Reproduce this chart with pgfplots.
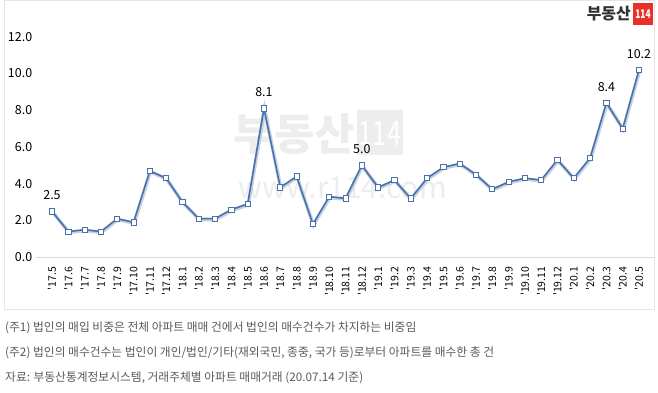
\documentclass[border=0pt]{standalone}
\usepackage{pgfplots}
\pgfplotsset{compat=1.18}
\usepackage{fontspec}
\setmainfont{Noto Sans CJK KR}
\definecolor{lineblue}{HTML}{4A72AA}
\definecolor{glow}{HTML}{C5D0E0}
\definecolor{logored}{HTML}{E8312A}
\definecolor{wm}{HTML}{EDEDED}
\begin{document}
\begin{tikzpicture}[x=1bp,y=1bp]
\path[use as bounding box] (0,0) rectangle (658,392);
\draw[black!10] (4,83) rectangle (654,391.5);
% watermark
\node[anchor=east, text=wm, font=\fontsize{44}{44}\selectfont\bfseries, inner sep=0] at (355,258) {부동산};
\fill[wm] (357,237) rectangle (403,282);
\node[text=white, font=\fontsize{34}{34}\selectfont, inner sep=0, xscale=0.75] at (380,259) {114};
\node[anchor=west, text=wm, font=\fontsize{30}{30}\selectfont, inner sep=0] at (238,204) {www.r114.com};
% logo
\node[anchor=east, text=black!80, font=\fontsize{16}{16}\selectfont\bfseries, inner sep=0] at (631,378) {부동산};
\fill[logored] (633,367) rectangle (653,389);
\node[text=white, font=\fontsize{12}{12}\selectfont\bfseries, inner sep=0, xscale=0.7] at (643,378) {114};
\begin{axis}[
  at={(35.7bp,134.7bp)}, anchor=south west,
  scale only axis, width=619.6bp, height=220.6bp,
  xmin=-1, xmax=37, ymin=0, ymax=12,
  axis line style={draw=none}, tick style={draw=none},
  ytick={0,2,...,12},
  /pgf/number format/assume math mode=true,
  yticklabel style={font=\fontsize{12.5}{14}\selectfont, /pgf/number format/fixed, /pgf/number format/fixed zerofill, /pgf/number format/precision=1},
  xtick={0,...,36},
  xticklabels={\textquotesingle17.5,\textquotesingle17.6,\textquotesingle17.7,\textquotesingle17.8,\textquotesingle17.9,\textquotesingle17.10,\textquotesingle17.11,\textquotesingle17.12,\textquotesingle18.1,\textquotesingle18.2,\textquotesingle18.3,\textquotesingle18.4,\textquotesingle18.5,\textquotesingle18.6,\textquotesingle18.7,\textquotesingle18.8,\textquotesingle18.9,\textquotesingle18.10,\textquotesingle18.11,\textquotesingle18.12,\textquotesingle19.1,\textquotesingle19.2,\textquotesingle19.3,\textquotesingle19.4,\textquotesingle19.5,\textquotesingle19.6,\textquotesingle19.7,\textquotesingle19.8,\textquotesingle19.9,\textquotesingle19.10,\textquotesingle19.11,\textquotesingle19.12,\textquotesingle20.1,\textquotesingle20.2,\textquotesingle20.3,\textquotesingle20.4,\textquotesingle20.5},
  xticklabel style={rotate=90, anchor=east, font=\fontsize{10.5}{12}\selectfont},
  xticklabel shift=6bp,
  clip=false,
]
\draw[black!15, line width=0.8pt] (axis cs:-1,0) -- (axis cs:37,0);
\addplot[glow, line width=3.6pt, shift={(0.6bp,-0.8bp)}, forget plot] coordinates {
(0,2.5)(1,1.4)(2,1.5)(3,1.4)(4,2.1)(5,1.9)(6,4.7)(7,4.3)(8,3.0)(9,2.1)(10,2.1)(11,2.6)(12,2.9)(13,8.1)(14,3.8)(15,4.4)(16,1.8)(17,3.3)(18,3.2)(19,5.0)(20,3.8)(21,4.2)(22,3.2)(23,4.3)(24,4.9)(25,5.1)(26,4.5)(27,3.7)(28,4.1)(29,4.3)(30,4.2)(31,5.3)(32,4.3)(33,5.4)(34,8.4)(35,7.0)(36,10.2)};
\addplot[lineblue, line width=1.6pt, mark=square*, mark size=2.6bp, mark options={fill=white, draw=lineblue, line width=0.8pt}] coordinates {
(0,2.5)(1,1.4)(2,1.5)(3,1.4)(4,2.1)(5,1.9)(6,4.7)(7,4.3)(8,3.0)(9,2.1)(10,2.1)(11,2.6)(12,2.9)(13,8.1)(14,3.8)(15,4.4)(16,1.8)(17,3.3)(18,3.2)(19,5.0)(20,3.8)(21,4.2)(22,3.2)(23,4.3)(24,4.9)(25,5.1)(26,4.5)(27,3.7)(28,4.1)(29,4.3)(30,4.2)(31,5.3)(32,4.3)(33,5.4)(34,8.4)(35,7.0)(36,10.2)};
\addplot[draw=none, mark=none, nodes near coords, point meta=explicit symbolic,
  nodes near coords style={anchor=south, yshift=8bp, font=\fontsize{12.5}{14}\selectfont, text=black}] coordinates {
(0,2.5)[2.5] (13,8.1)[8.1] (19,5.0)[5.0] (34,8.4)[8.4] (36,10.2)[10.2]};
\end{axis}
\begin{scope}[every node/.style={anchor=west, inner sep=0, text=black!65, font=\fontsize{11.8}{13}\selectfont}]
\node at (5,64) {(주1) 법인의 매입 비중은 전체 아파트 매매 건에서 법인의 매수건수가 차지하는 비중임};
\node at (5,39) {(주2) 법인의 매수건수는 법인이 개인/법인/기타(재외국민, 종중, 국가 등)로부터 아파트를 매수한 총 건};
\node at (5,14) {자료: 부동산통계정보시스템, 거래주체별 아파트 매매거래 (20.07.14 기준)};
\end{scope}
\end{tikzpicture}
\end{document}
